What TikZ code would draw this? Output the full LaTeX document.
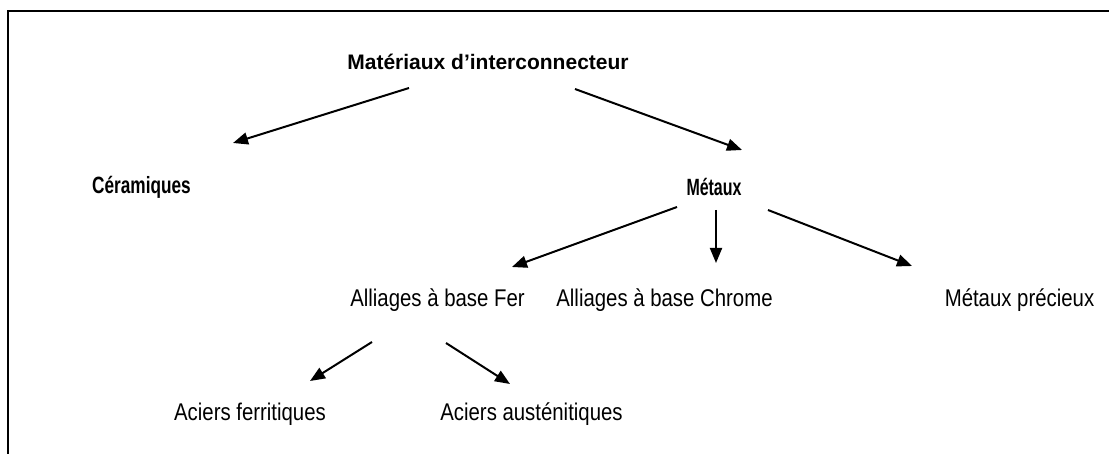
\documentclass[tikz,border=0pt]{standalone}
\usepackage{fontspec}
\usepackage{graphicx}
\setmainfont{Liberation Sans}
\usetikzlibrary{arrows.meta,calc}
\newcommand{\tall}[1]{\scalebox{0.97}[1.15]{#1}}
\newcommand{\narrowb}[2]{\scalebox{#1}[1.12]{#2}}
\begin{document}
\begin{tikzpicture}[x=1pt,y=-1pt,
  lbl/.style={inner sep=0pt,font=\fontsize{21}{25}\selectfont},
  blbl/.style={inner sep=0pt,font=\fontsize{21}{25}\selectfont\bfseries},
  arr/.style={line width=2pt,-{Triangle[length=15pt,width=12pt]}},
  frame/.style={line width=2pt}]
\useasboundingbox (0,0) rectangle (1109,454);
\draw[frame] (8,454) -- (8,11) -- (1109,11);
\node[blbl] (title) at (488,62) {Matériaux d’interconnecteur};
\node[blbl] (cer) at (141.5,187) {\narrowb{0.82}{Céramiques}};
\node[blbl] (met) at (714,187) {\narrowb{0.76}{Métaux}};
\node[lbl] (fer) at (437.5,300) {\tall{Alliages à base Fer}};
\node[lbl] (chr) at (664.5,300) {\tall{Alliages à base Chrome}};
\node[lbl] (pre) at (1019.5,300) {\tall{Métaux précieux}};
\node[lbl] (fer1) at (250,414) {\tall{Aciers ferritiques}};
\node[lbl] (aus) at (531.5,414) {\tall{Aciers austénitiques}};
\draw[arr] ($(title)+(-79,26)$) -- ($(cer)+(91.5,-44)$);
\draw[arr] ($(title)+(87,27)$) -- ($(met)+(28,-37)$);
\draw[arr] ($(met)+(-37,20)$) -- ($(fer)+(74.5,-33)$);
\draw[arr] ($(met)+(2,23)$) -- ($(chr)+(51.5,-37)$);
\draw[arr] ($(met)+(54,23)$) -- ($(pre)+(-107.5,-34)$);
\draw[arr] ($(fer)+(-65.5,42)$) -- ($(fer1)+(60,-33)$);
\draw[arr] ($(fer)+(8.5,43)$) -- ($(aus)+(-21.5,-30)$);
\end{tikzpicture}
\end{document}
